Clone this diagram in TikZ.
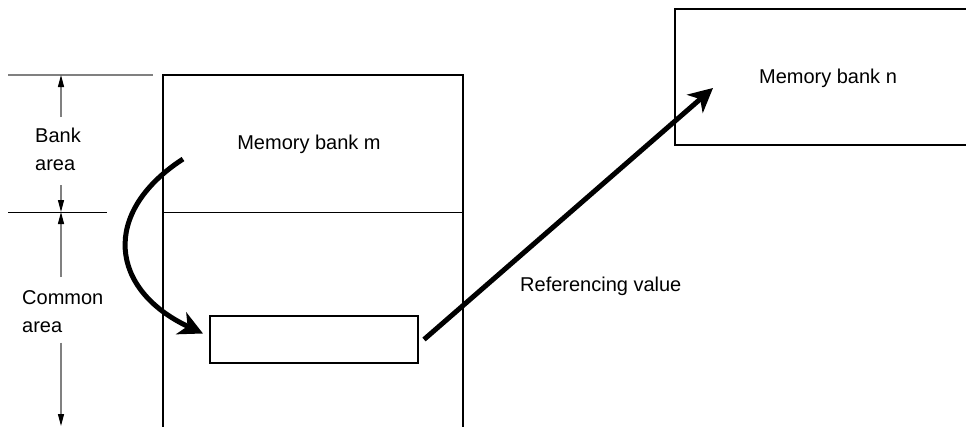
\documentclass[tikz,border=0pt]{standalone}
\usepackage{fontspec}
\setmainfont{Liberation Sans}
\usepackage{tikz}
\usetikzlibrary{arrows.meta,calc}

\tikzset{
  dimline/.style={gray,line width=1.2pt,-{Triangle[length=12pt,width=6pt,black]}},
  boxline/.style={draw,line width=2pt,inner sep=0pt,outer sep=0pt,anchor=north west},
  bigarrow/.style={line width=5pt,-{Stealth[length=24pt,width=24pt,inset=7pt]}},
  lbl/.style={font=\fontsize{20}{28}\selectfont,inner sep=0pt,align=left}
}

\begin{document}
\begin{tikzpicture}[x=1pt,y=-1pt]
        \useasboundingbox (0,0) rectangle (966,426);
        % reference lines at the left
        \draw[gray,line width=1.2pt] (8,75) -- (153,75);
        \draw[line width=1pt] (8,212) -- (107,212);
        \coordinate (toprule) at (61,75);
        \coordinate (midrule) at (61,212);
        \coordinate (botrule) at (61,426);
        % memory bank m, open at the bottom
        \node[boxline,minimum width=300pt,minimum height=380pt] (bankm) at (163,75) {};
        \draw[line width=1pt] (bankm.west |- midrule) -- (bankm.east |- midrule);
        \node[lbl,anchor=base] (mtext) at (309,149) {Memory bank m};
        \node[boxline,minimum width=208pt,minimum height=47pt] (slot) at (210,316) {};
        % memory bank n, open at the right
        \node[boxline,minimum width=320pt,minimum height=136pt] (bankn) at (675,9) {};
        \node[lbl,anchor=base] (ntext) at (828,83) {Memory bank n};
        \coordinate (target) at (713,88);
        % area labels
        \node[lbl,anchor=north west] (bank) at (35,128) {Bank\\area};
        \node[lbl,anchor=north west] (common) at (22,290) {Common\\area};
        \draw[dimline] ([yshift=11pt]bank.north -| toprule) -- (toprule);
        \draw[dimline] ([yshift=-14pt]bank.south -| midrule) -- (midrule);
        \draw[dimline] ([yshift=13pt]common.north -| midrule) -- (midrule);
        \draw[dimline] ([yshift=-10pt]common.south -| botrule) -- (botrule);
        % arrows
        \coordinate (cstart) at (183,159);
        \draw[bigarrow] (cstart) .. controls (100,213) and (110,290) .. ([shift={(-7pt,6pt)}]slot.west);
        \draw[bigarrow] ([xshift=6pt]slot.east) -- (target);
        \node[lbl,anchor=base west] (refval) at (520,291) {Referencing value};
\end{tikzpicture}
\end{document}
